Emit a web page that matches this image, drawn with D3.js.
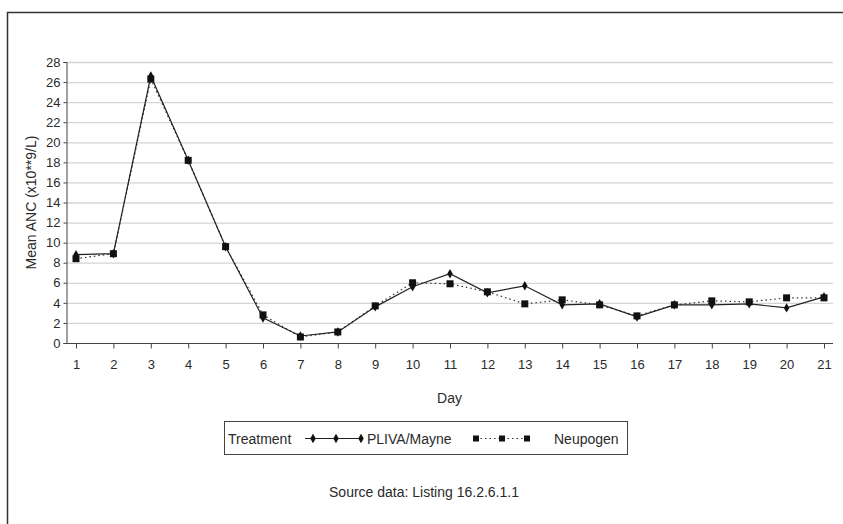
<!DOCTYPE html>
<html>
<head>
<meta charset="utf-8">
<script src="https://cdn.jsdelivr.net/npm/d3@7"></script>
<style>
  body { margin: 0; background: #fff; }
  text { font-family: "Liberation Sans", Arial, sans-serif; fill: #2a2a2a; }
</style>
</head>
<body>
<svg id="canvas" width="843" height="524"></svg>
<script>
const days = d3.range(1, 22);
const pliva = [8.8, 8.9, 26.6, 18.2, 9.6, 2.5, 0.7, 1.1, 3.6, 5.6, 6.9, 5.0, 5.7, 3.8, 3.9, 2.6, 3.8, 3.8, 3.9, 3.5, 4.6];
const neupogen = [8.4, 8.9, 26.3, 18.2, 9.6, 2.8, 0.6, 1.1, 3.7, 6.0, 5.9, 5.1, 3.9, 4.3, 3.8, 2.7, 3.8, 4.2, 4.1, 4.5, 4.5];
const yTicks = d3.range(0, 29, 2);

const svg = d3.select('#canvas');

// cropped frame round the figure
svg.append('path')
  .attr('d', 'M7.5,524 V12.5 H843')
  .attr('fill', 'none')
  .attr('stroke', '#333')
  .attr('stroke-width', 1.5);

const plotLeft = 66, plotRight = 833, plotTop = 62, plotBottom = 343;
const x = d3.scaleLinear().domain([1, 21]).range([76, 824]);
const y = d3.scaleLinear().domain([0, 28]).range([plotBottom, plotTop]);

// gridlines
svg.append('g').selectAll('line')
  .data(yTicks.filter(d => d > 0))
  .enter().append('line')
  .attr('x1', plotLeft).attr('x2', plotRight)
  .attr('y1', d => y(d) + 0.5).attr('y2', d => y(d) + 0.5)
  .attr('stroke', '#d4d4d4')
  .attr('stroke-width', 1.3);

// y axis
const yAxis = svg.append('g')
  .attr('transform', `translate(${plotLeft + 0.5},0)`)
  .call(d3.axisLeft(y).tickValues(yTicks).tickSize(3).tickPadding(3));
yAxis.select('.domain').attr('stroke', '#444');
yAxis.selectAll('.tick line').attr('stroke', '#444');
yAxis.selectAll('text').style('font-size', '13px').style('font-family', '"Liberation Sans", Arial, sans-serif').attr('fill', '#2a2a2a');

// x axis
const xAxis = svg.append('g')
  .attr('transform', `translate(0,${plotBottom + 0.5})`)
  .call(d3.axisBottom(x).tickValues(days).tickSize(5).tickPadding(11).tickSizeOuter(0));
xAxis.select('.domain').attr('d', `M${plotLeft},0H${plotRight}`).attr('stroke', '#444');
xAxis.selectAll('.tick line').attr('stroke', '#444');
xAxis.selectAll('text').style('font-size', '13px').style('font-family', '"Liberation Sans", Arial, sans-serif').attr('fill', '#2a2a2a');

// axis titles
svg.append('text')
  .attr('x', (plotLeft + plotRight) / 2).attr('y', 403)
  .attr('text-anchor', 'middle')
  .style('font-size', '14px')
  .text('Day');

svg.append('text')
  .attr('transform', `translate(36,${(plotTop + plotBottom) / 2}) rotate(-90)`)
  .attr('text-anchor', 'middle')
  .style('font-size', '14px')
  .text('Mean ANC (x10**9/L)');

const line = d3.line().x((d, i) => x(days[i])).y(d => y(d));

// Neupogen - dotted, squares
svg.append('path')
  .datum(neupogen)
  .attr('d', line)
  .attr('fill', 'none')
  .attr('stroke', '#333')
  .attr('stroke-width', 1.2)
  .attr('stroke-dasharray', '1.5,3');

// PLIVA/Mayne - solid, diamonds
svg.append('path')
  .datum(pliva)
  .attr('d', line)
  .attr('fill', 'none')
  .attr('stroke', '#222')
  .attr('stroke-width', 1.2);

const diamond = d3.symbol().type(d3.symbolDiamond).size(26);

svg.append('g').selectAll('rect')
  .data(neupogen)
  .enter().append('rect')
  .attr('x', (d, i) => x(days[i]) - 3.5)
  .attr('y', d => y(d) - 3.5)
  .attr('width', 7).attr('height', 7)
  .attr('fill', '#111');

svg.append('g').selectAll('path')
  .data(pliva)
  .enter().append('path')
  .attr('d', diamond)
  .attr('transform', (d, i) => `translate(${x(days[i])},${y(d)})`)
  .attr('fill', '#111');

// legend
const lg = svg.append('g');
lg.append('rect')
  .attr('x', 224.5).attr('y', 421.5)
  .attr('width', 403).attr('height', 33)
  .attr('fill', '#fff')
  .attr('stroke', '#444');
lg.append('text').attr('x', 228).attr('y', 444).style('font-size', '14px').text('Treatment');
lg.append('line')
  .attr('x1', 305).attr('x2', 362).attr('y1', 438.5).attr('y2', 438.5)
  .attr('stroke', '#222').attr('stroke-width', 1.2);
[313, 336, 361].forEach(cx => {
  lg.append('path').attr('d', diamond).attr('transform', `translate(${cx},438.5)`).attr('fill', '#111');
});
lg.append('text').attr('x', 367).attr('y', 444).style('font-size', '14px').text('PLIVA/Mayne');
lg.append('line')
  .attr('x1', 476).attr('x2', 527).attr('y1', 438.5).attr('y2', 438.5)
  .attr('stroke', '#333').attr('stroke-width', 1.2).attr('stroke-dasharray', '1.5,3');
[476, 502, 527].forEach(cx => {
  lg.append('rect').attr('x', cx - 3).attr('y', 435.5).attr('width', 6).attr('height', 6).attr('fill', '#111');
});
lg.append('text').attr('x', 554).attr('y', 444).style('font-size', '14px').text('Neupogen');

svg.append('text')
  .attr('x', 424).attr('y', 497)
  .attr('text-anchor', 'middle')
  .style('font-size', '14px')
  .text('Source data: Listing 16.2.6.1.1');
</script>
</body>
</html>
